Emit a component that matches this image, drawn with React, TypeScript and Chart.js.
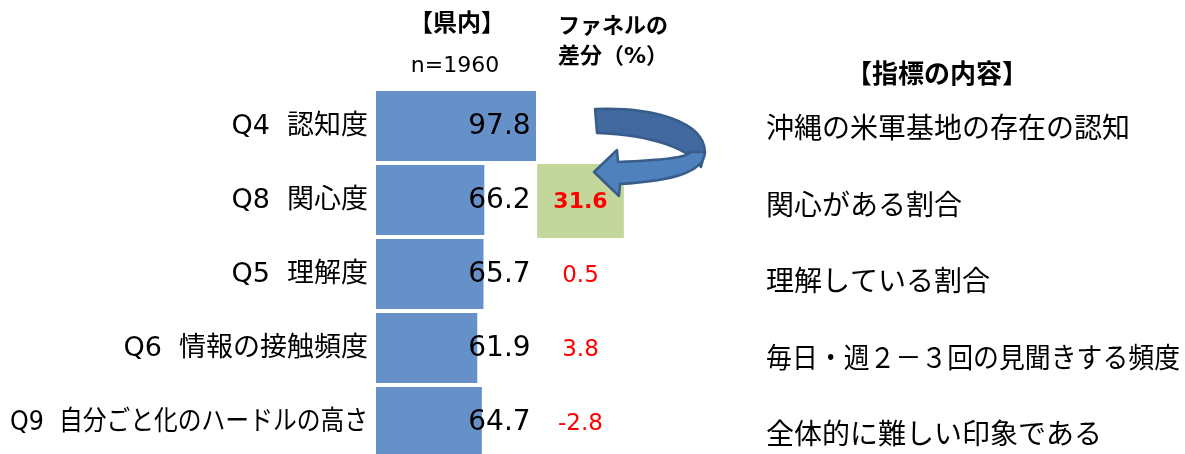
import React, { useEffect, useRef } from "react";
import { Chart, registerables } from "chart.js";

Chart.register(...registerables);

const categories = [
  "Q4  認知度",
  "Q8  関心度",
  "Q5  理解度",
  "Q6  情報の接触頻度",
  "Q9  自分ごと化のハードルの高さ",
];
const values = [97.8, 66.2, 65.7, 61.9, 64.7];
const funnelDiffs: (number | null)[] = [null, 31.6, 0.5, 3.8, -2.8];
const highlightIndex = 1;
const descriptions = [
  "沖縄の米軍基地の存在の認知",
  "関心がある割合",
  "理解している割合",
  "毎日・週２－３回の見聞きする頻度",
  "全体的に難しい印象である",
];
const headerRegion = "【県内】";
const headerSample = "n=1960";
const headerDiff = ["ファネルの", "差分（%）"];
const headerDesc = "【指標の内容】";

const FONT = '"DejaVu Sans", "Noto Sans CJK JP", sans-serif';
const BAR_COLOR = "#6690C8";

// draws text, condensing it horizontally if it is wider than maxW
function drawFit(
  ctx: CanvasRenderingContext2D,
  text: string,
  x: number,
  y: number,
  maxW: number,
  align: "left" | "right"
) {
  const w = ctx.measureText(text).width;
  const k = w > maxW ? maxW / w : 1;
  ctx.save();
  ctx.translate(x, y);
  ctx.scale(k, 1);
  ctx.textAlign = align;
  ctx.fillText(text, 0, 0);
  ctx.restore();
}

const overlayPlugin = {
  id: "overlay",
  afterDatasetsDraw(chart: any) {
    const { ctx, chartArea, scales } = chart;
    const xs = scales.x;
    const ys = scales.y;
    ctx.save();
    ctx.textBaseline = "middle";

    // category labels
    ctx.fillStyle = "#000";
    ctx.font = `27px ${FONT}`;
    categories.forEach((c, i) => {
      drawFit(ctx, c, chartArea.left - 8, ys.getPixelForValue(i) + 1, chartArea.left - 18, "right");
    });

    // value labels
    ctx.font = `28px ${FONT}`;
    ctx.textAlign = "right";
    values.forEach((v, i) => {
      ctx.fillText(v.toFixed(1), chartArea.right - 9, ys.getPixelForValue(i) + 1);
    });

    // highlight box
    const band = ys.getPixelForValue(1) - ys.getPixelForValue(0);
    const hy = ys.getPixelForValue(highlightIndex);
    const bx0 = xs.getPixelForValue(98.5);
    const bx1 = xs.getPixelForValue(151.5);
    ctx.fillStyle = "#C3D69B";
    ctx.fillRect(bx0, hy - band / 2 + 1, bx1 - bx0, band);

    // diffs
    const dx = xs.getPixelForValue(125);
    ctx.textAlign = "center";
    funnelDiffs.forEach((d, i) => {
      if (d === null) return;
      ctx.fillStyle = "#FF0000";
      ctx.font = i === highlightIndex ? `bold 22px ${FONT}` : `23px ${FONT}`;
      ctx.fillText(d.toFixed(1), dx, ys.getPixelForValue(i) + 2);
    });

    // headers
    ctx.fillStyle = "#000";
    ctx.textAlign = "center";
    ctx.font = `bold 24px ${FONT}`;
    const hx = xs.getPixelForValue(49.5);
    ctx.fillText(headerRegion, hx, 25);
    ctx.font = `22px ${FONT}`;
    ctx.fillText(headerSample, hx - 2, 66);
    ctx.textAlign = "left";
    ctx.font = `bold 22px ${FONT}`;
    ctx.fillText(headerDiff[0], 558, 27);
    ctx.fillText(headerDiff[1], 558, 57);
    ctx.font = `bold 26px ${FONT}`;
    ctx.fillText(headerDesc, 846, 76);

    // descriptions
    ctx.font = `28px ${FONT}`;
    descriptions.forEach((d, i) => {
      drawFit(ctx, d, 766, ys.getPixelForValue(i) + 5 + 2.5 * i, 1180 - 766, "left");
    });

    // curved arrow
    ctx.lineJoin = "round";
    ctx.lineWidth = 2.5;
    ctx.strokeStyle = "#385D8A";
    ctx.beginPath();
    ctx.moveTo(595, 109);
    ctx.bezierCurveTo(655, 107, 704, 122, 705, 152);
    ctx.lineTo(701, 167);
    ctx.bezierCurveTo(690, 150, 655, 135, 597, 133);
    ctx.closePath();
    ctx.fillStyle = "#41699F";
    ctx.fill();
    ctx.stroke();
    ctx.beginPath();
    ctx.moveTo(705, 152);
    ctx.bezierCurveTo(704, 173, 670, 181, 620, 184);
    ctx.lineTo(619, 196);
    ctx.lineTo(594, 172);
    ctx.lineTo(617, 150);
    ctx.lineTo(618, 162);
    ctx.bezierCurveTo(660, 160, 688, 158, 690, 152);
    ctx.closePath();
    ctx.fillStyle = "#4F81BD";
    ctx.fill();
    ctx.stroke();

    ctx.restore();
  },
};

export default function App() {
  const ref = useRef<HTMLCanvasElement | null>(null);
  useEffect(() => {
    document.body.style.margin = "0";
    document.body.style.overflow = "hidden";
    const canvas = ref.current;
    if (!canvas) return;
    const chart = new Chart(canvas, {
      type: "bar",
      data: {
        labels: categories,
        datasets: [
          {
            data: values,
            backgroundColor: BAR_COLOR,
            borderWidth: 0,
            barPercentage: 70 / 74,
            categoryPercentage: 1,
          },
        ],
      },
      options: {
        indexAxis: "y",
        responsive: false,
        animation: false,
        devicePixelRatio: 1,
        layout: { padding: { left: 376, right: 1185 - (376 + 163.6), top: 89, bottom: 5 } },
        plugins: { legend: { display: false }, tooltip: { enabled: false } },
        scales: {
          x: { display: false, min: 0, max: 100 },
          y: { display: false, offset: true },
        },
      },
      plugins: [overlayPlugin],
    });
    return () => chart.destroy();
  }, []);
  return (
    <div style={{ position: "fixed", left: 0, top: 0, width: 1185, height: 464 }}>
      <canvas ref={ref} width={1185} height={464} style={{ display: "block" }} />
    </div>
  );
}
